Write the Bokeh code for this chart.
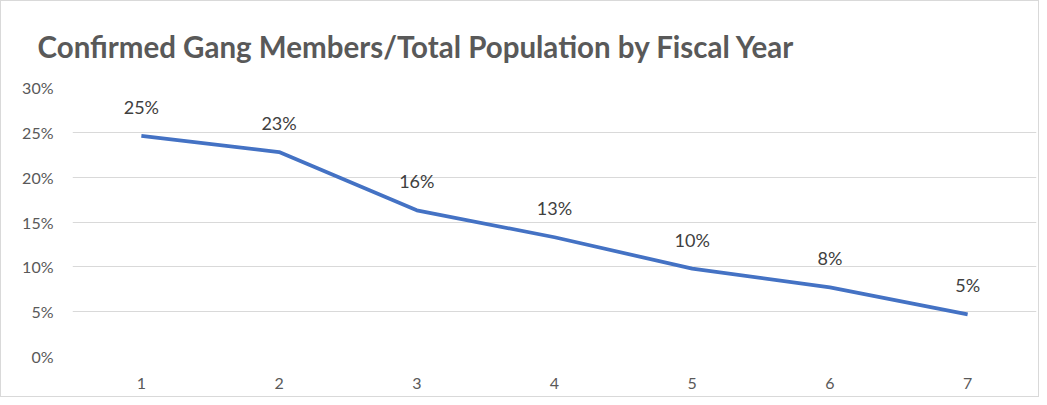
from bokeh.plotting import figure
from bokeh.models import Range1d, FixedTicker, NumeralTickFormatter, ColumnDataSource
from bokeh.core.properties import value
from bokeh.embed import file_html
from bokeh.resources import INLINE

years = [1, 2, 3, 4, 5, 6, 7]
share = [0.246, 0.228, 0.163, 0.133, 0.098, 0.077, 0.047]
y_ticks = [0, 0.05, 0.10, 0.15, 0.20, 0.25, 0.30]
title_text = "Confirmed Gang Members/Total Population by Fiscal Year"

labels = ["{:.0f}%".format(v * 100) for v in share]
src = ColumnDataSource(dict(x=years, y=share, lab=labels))

FONT = "Lato"

p = figure(width=1039, height=397, output_backend="svg", toolbar_location=None,
           x_range=Range1d(0.5, 7.5), y_range=Range1d(0, 0.30),
           min_border_left=71, min_border_right=4, min_border_top=86, min_border_bottom=42)
p.styles = {"border": "1px solid #d9d9d9"}
p.outline_line_color = None
p.background_fill_color = "white"

p.title.text = title_text
p.title.align = "left"
p.title.vertical_align = "bottom"
p.title.offset = -35
p.title.standoff = 48
p.title.text_font = FONT
p.title.text_font_size = "29.5px"
p.title.text_font_style = "bold"
p.title.text_color = "#595959"

p.line("x", "y", source=src, line_color="#4472C4", line_width=3.75)
p.text("x", "y", text="lab", source=src, y_offset=-29, text_align="center",
       text_baseline="middle", text_font=value(FONT), text_font_size="18px",
       text_color="#404040")

p.xgrid.grid_line_color = None
p.ygrid.grid_line_color = "#D9D9D9"
p.ygrid.grid_line_width = 1

for ax in (p.xaxis[0], p.yaxis[0]):
    ax.axis_line_color = None
    ax.major_tick_line_color = None
    ax.minor_tick_line_color = None
    ax.major_label_text_font = FONT
    ax.major_label_text_font_size = "16px"
    ax.major_label_text_color = "#595959"

p.xaxis[0].ticker = FixedTicker(ticks=years)
p.xaxis[0].major_label_standoff = 15
p.yaxis[0].ticker = FixedTicker(ticks=y_ticks)
p.yaxis[0].formatter = NumeralTickFormatter(format="0%")
p.yaxis[0].major_label_standoff = 13

open("out.html", "w").write(file_html(p, INLINE))
